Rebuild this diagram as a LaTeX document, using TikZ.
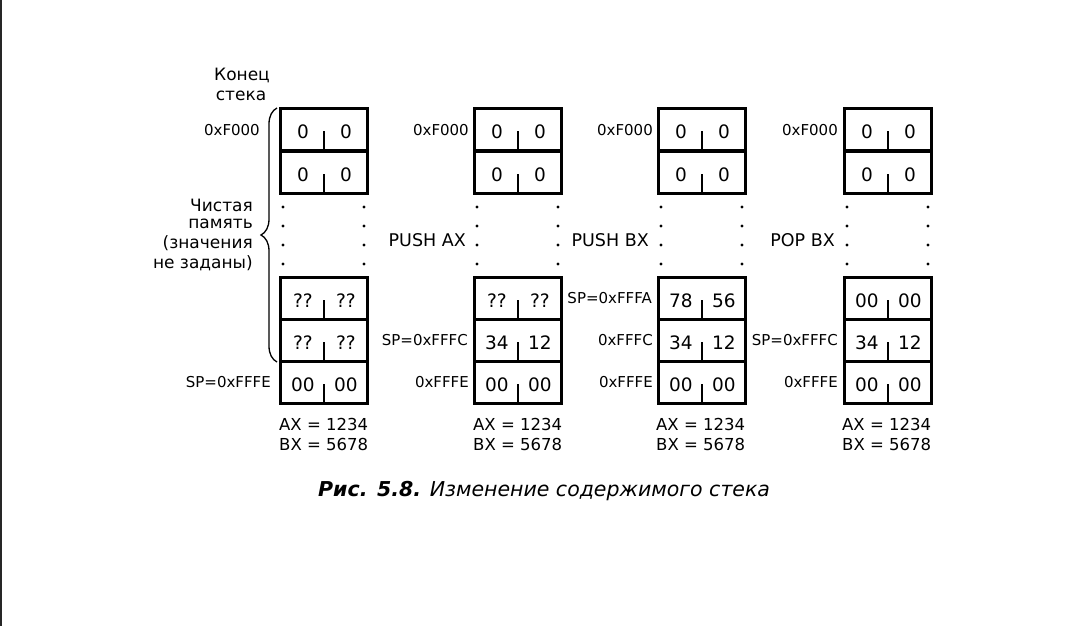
\documentclass[tikz,border=0pt]{standalone}
\usepackage{fontspec}
\setmainfont{DejaVu Sans}
\usetikzlibrary{calc,decorations.pathreplacing}
\tikzset{
  cellbox/.style={draw, line width=2.9pt, minimum width=87pt, minimum height=42pt, anchor=north west, inner sep=0pt},
  celltxt/.style={inner sep=0pt, font=\fontsize{18.5}{21}\selectfont},
  tick/.style={line width=2.2pt},
  addr/.style={inner sep=0pt, anchor=east, font=\fontsize{15}{17}\selectfont},
  oplab/.style={inner sep=0pt, anchor=east, font=\fontsize{17.5}{20}\selectfont},
  reglab/.style={inner sep=0pt, anchor=west, font=\fontsize{16.5}{19}\selectfont},
  sidelab/.style={inner sep=0pt, anchor=east, font=\fontsize{17}{19}\selectfont},
  toplab/.style={inner sep=0pt, font=\fontsize{17}{19}\selectfont},
  bracestyle/.style={line width=1.3pt, decorate, decoration={brace, amplitude=16pt}},
}
\newcommand\mycell[5]{%
  \node[cellbox] (#1) at (#2,#3) {};
  \node[celltxt] (#1l) at ($(#1.center)+(-21,2)$) {#4};
  \node[celltxt] (#1r) at ($(#1.center)+(22,2)$) {#5};
  \draw[tick] (#1.south) -- ($(#1.south)+(0,-21)$);
}
\newcommand\mydots[1]{%
  \foreach \yy in {207,226,245,264}{
    \fill ($(#1,\yy)+(4,0)$) circle (1.7pt);
    \fill ($(#1,\yy)+(85,0)$) circle (1.7pt);
  }
}
\begin{document}
\begin{tikzpicture}[x=1pt,y=-1pt]
\useasboundingbox (0,0) rectangle (1080,626);
\fill[white] (0,0) rectangle (1080,626);
\draw[line width=2.5pt, black!85] (1,0) -- (1,626);

% column 1
\mycell{a1}{279}{107}{0}{0}
\mycell{a2}{279}{150}{0}{0}
\mydots{279}
\mycell{a3}{279}{276}{??}{??}
\mycell{a4}{279}{318}{??}{??}
\mycell{a5}{279}{360}{00}{00}
% column 2
\mycell{b1}{473}{107}{0}{0}
\mycell{b2}{473}{150}{0}{0}
\mydots{473}
\mycell{b3}{473}{276}{??}{??}
\mycell{b4}{473}{318}{34}{12}
\mycell{b5}{473}{360}{00}{00}
% column 3
\mycell{c1}{657}{107}{0}{0}
\mycell{c2}{657}{150}{0}{0}
\mydots{657}
\mycell{c3}{657}{276}{78}{56}
\mycell{c4}{657}{318}{34}{12}
\mycell{c5}{657}{360}{00}{00}
% column 4
\mycell{d1}{843}{107}{0}{0}
\mycell{d2}{843}{150}{0}{0}
\mydots{843}
\mycell{d3}{843}{276}{00}{00}
\mycell{d4}{843}{318}{34}{12}
\mycell{d5}{843}{360}{00}{00}

% addresses
\node[addr] (la1) at (260,130) {0xF000};
\node[addr] (la5) at (271,382) {SP=0xFFFE};
\node[addr] (lb1) at (469,130) {0xF000};
\node[addr] (lb4) at (468,340) {SP=0xFFFC};
\node[addr] (lb5) at (469,382) {0xFFFE};
\node[addr] (lc1) at (653,130) {0xF000};
\node[addr] (lc3) at (652,298) {SP=0xFFFA};
\node[addr] (lc4) at (653,340) {0xFFFC};
\node[addr] (lc5) at (653,382) {0xFFFE};
\node[addr] (ld1) at (838,130) {0xF000};
\node[addr] (ld4) at (838,340) {SP=0xFFFC};
\node[addr] (ld5) at (838,382) {0xFFFE};

% operations
\node[oplab] (op1) at (466,240) {PUSH AX};
\node[oplab] (op2) at (649,240) {PUSH BX};
\node[oplab] (op3) at (835,240) {POP BX};

% registers
\node[reglab] (ra1) at (279,424) {AX = 1234};
\node[reglab] (rb1) at (279,444) {BX = 5678};
\node[reglab] (ra2) at (473,424) {AX = 1234};
\node[reglab] (rb2) at (473,444) {BX = 5678};
\node[reglab] (ra3) at (656,424) {AX = 1234};
\node[reglab] (rb3) at (656,444) {BX = 5678};
\node[reglab] (ra4) at (842,424) {AX = 1234};
\node[reglab] (rb4) at (842,444) {BX = 5678};

% left labels
\node[toplab] (t1) at (242,75) {Конец};
\node[toplab] (t2) at (241,96) {стека};
\node[sidelab] (s1) at (253,205) {Чистая};
\node[sidelab] (s2) at (253,224) {память};
\node[sidelab] (s3) at (253,243) {(значения};
\node[sidelab] (s4) at (253,263) {не заданы)};

% brace
\coordinate (brb) at (277,362);
\coordinate (brt) at (277,108);
\draw[bracestyle] (brb) -- (brt);

% caption
\node[inner sep=0pt, anchor=west, font=\fontsize{20.5}{24}\selectfont] (cap) at (318,491)
  {{\bfseries\itshape Рис. 5.8.} \itshape Изменение содержимого стека};
\end{tikzpicture}
\end{document}
